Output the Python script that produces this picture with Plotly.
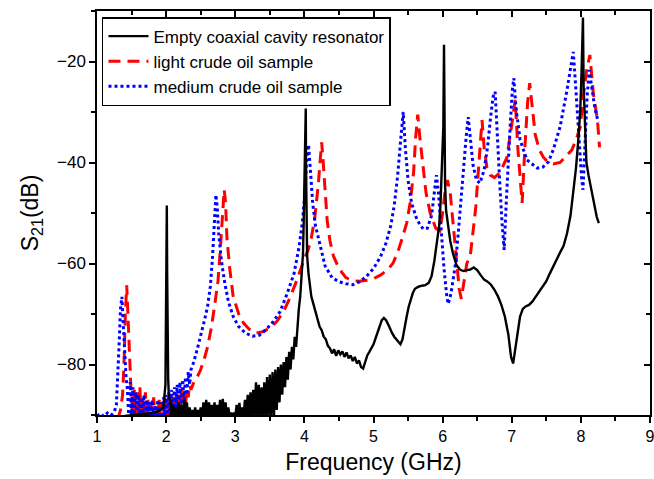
import plotly.graph_objects as go

# ---------------- data ----------------
# Empty coaxial cavity resonator (black, solid)
empty_freq = [
    1.00, 1.20, 1.40, 1.60, 1.80, 1.90, 1.96, 1.99, 2.00, 2.01, 2.015, 2.02, 2.03, 2.04,
    2.06, 2.08, 2.10, 2.12, 2.14, 2.16, 2.18, 2.20, 2.22, 2.24, 2.26, 2.28, 2.30, 2.32,
    2.34, 2.36, 2.38, 2.40, 2.42, 2.44, 2.46, 2.48, 2.50, 2.52, 2.54, 2.56, 2.58, 2.60,
    2.62, 2.64, 2.66, 2.68, 2.70, 2.72, 2.74, 2.76, 2.78, 2.80, 2.82, 2.84, 2.86, 2.88,
    2.90, 2.92, 2.94, 2.96, 2.98, 3.00, 3.02, 3.04, 3.06, 3.08, 3.10, 3.12, 3.14, 3.16,
    3.18, 3.20, 3.22, 3.24, 3.26, 3.28, 3.30, 3.32, 3.34, 3.36, 3.38, 3.40, 3.42, 3.44,
    3.46, 3.48, 3.50, 3.52, 3.54, 3.56, 3.58, 3.60, 3.62, 3.64, 3.66, 3.68, 3.70, 3.72,
    3.74, 3.76, 3.78, 3.80, 3.82, 3.84, 3.86, 3.88, 3.90,
    3.92, 3.94, 3.96, 3.98, 3.99, 4.00, 4.01, 4.02, 4.025, 4.03, 4.04, 4.06, 4.08, 4.10,
    4.13, 4.16, 4.19, 4.22, 4.25, 4.28, 4.31, 4.34, 4.37, 4.40, 4.43, 4.46, 4.49, 4.52,
    4.55, 4.58, 4.61, 4.64, 4.67, 4.70, 4.73, 4.76, 4.79, 4.82, 4.85, 4.88, 4.91, 4.94,
    4.97, 5.00, 5.03, 5.06, 5.09, 5.12, 5.15, 5.18, 5.21, 5.24, 5.27, 5.30, 5.33, 5.36,
    5.39, 5.42, 5.45, 5.48, 5.51, 5.54, 5.57, 5.60, 5.65, 5.70, 5.75, 5.80, 5.84, 5.88,
    5.92, 5.95, 5.97, 5.99, 6.00, 6.01, 6.02, 6.025, 6.035, 6.05, 6.08, 6.11, 6.15, 6.20,
    6.25, 6.30, 6.35, 6.40, 6.45, 6.50, 6.55, 6.60, 6.65, 6.70, 6.75, 6.80, 6.85, 6.90,
    6.95, 6.99, 7.02, 7.05, 7.08, 7.12, 7.16, 7.20, 7.25, 7.30, 7.35, 7.40, 7.45, 7.50,
    7.55, 7.60, 7.65, 7.70, 7.75, 7.80, 7.85, 7.89, 7.93, 7.96, 7.99, 8.01, 8.02, 8.03,
    8.04, 8.06, 8.08, 8.11, 8.14, 8.17, 8.20, 8.23, 8.26,
]
empty_s21 = [
    -90.5, -90.4, -90.2, -89.9, -89.6, -89.2, -88.5, -84.0, -70.0, -48.5, -62.0, -75.0, -83.0, -86.5,
    -87.0, -90.5, -88.0, -90.5, -88.5, -90.5, -87.5, -90.5, -88.0, -90.5, -87.0, -90.5, -87.5, -90.5,
    -88.5, -90.5, -89.0, -90.5, -88.5, -90.5, -89.0, -90.5, -88.5, -90.5, -87.5, -90.5, -87.0, -90.5,
    -87.5, -90.5, -88.0, -90.5, -87.5, -90.5, -88.0, -90.5, -87.0, -90.5, -86.8, -90.5, -87.5, -90.5,
    -88.5, -90.5, -89.5, -90.5, -89.5, -90.5, -88.0, -90.5, -87.6, -90.5, -88.5, -90.5, -87.0, -90.5,
    -86.0, -90.5, -85.5, -90.5, -85.0, -90.5, -83.5, -90.5, -84.0, -90.5, -84.5, -90.5, -83.5, -90.5,
    -82.5, -90.5, -82.0, -90.5, -81.5, -90.5, -81.0, -89.0, -80.5, -87.5, -80.0, -86.0, -79.5, -84.5,
    -78.5, -83.0, -77.5, -81.0, -76.5, -79.0, -74.5, -76.5, -71.5,
    -69.0, -66.5, -63.0, -58.0, -52.0, -46.0, -38.0, -29.3, -42.0, -55.0, -58.5, -62.0, -64.5, -66.5,
    -68.0, -69.5, -71.0, -72.5, -73.2, -74.5, -75.0, -76.3, -76.8, -77.8, -77.0, -78.3, -77.2, -78.0,
    -77.4, -78.5, -77.6, -78.8, -78.2, -79.3, -78.5, -79.8, -79.2, -80.5, -80.8, -79.5, -78.2, -77.5,
    -76.8, -76.0, -74.8, -73.5, -72.2, -71.2, -70.8, -71.2, -72.0, -73.0, -73.8, -74.5, -75.0, -75.6,
    -76.0, -75.0, -72.5, -70.5, -68.5, -67.0, -65.8, -65.0, -64.6, -64.4, -64.3, -63.8, -62.5, -59.5,
    -56.0, -52.5, -48.0, -42.0, -38.0, -33.0, -16.7, -34.0, -44.0, -49.5, -53.0, -55.5, -58.0, -60.3,
    -61.2, -61.5, -61.3, -61.2, -60.8, -61.3, -62.3, -63.2, -63.6, -64.2, -65.2, -66.5, -68.2, -70.5,
    -74.0, -78.5, -79.8, -77.0, -73.5, -70.5, -69.0, -68.5, -68.2, -67.5, -66.5, -65.5, -64.6, -63.5,
    -62.0, -60.5, -59.0, -57.8, -56.5, -54.0, -50.5, -46.0, -41.0, -36.0, -30.0, -22.0, -16.0, -11.3,
    -25.0, -35.0, -40.0, -42.5, -44.5, -47.0, -49.0, -50.8, -52.0,
]

# Light crude oil sample (red, dashed)
light_freq = [
    1.30, 1.34, 1.37, 1.39, 1.41, 1.43, 1.45, 1.47, 1.49,
    1.50, 1.52, 1.54, 1.56, 1.58, 1.60, 1.62, 1.64, 1.66, 1.68, 1.70, 1.72, 1.74, 1.76,
    1.78, 1.80, 1.82, 1.84, 1.86, 1.88, 1.90, 1.92, 1.94, 1.96, 1.98, 2.00, 2.02, 2.04,
    2.06, 2.08, 2.10, 2.12, 2.14, 2.16, 2.18, 2.20, 2.22, 2.24, 2.26, 2.28, 2.30, 2.32,
    2.34, 2.36,
    2.40, 2.45, 2.50, 2.55, 2.60, 2.65, 2.70, 2.75, 2.78, 2.81, 2.84, 2.86, 2.88, 2.92,
    2.97, 3.05, 3.12, 3.20, 3.30, 3.40, 3.50, 3.60, 3.70, 3.80, 3.90, 4.00, 4.05, 4.10,
    4.15, 4.20, 4.23, 4.25, 4.27, 4.30, 4.33, 4.37, 4.42, 4.50, 4.60, 4.70, 4.80, 4.90,
    5.00, 5.10, 5.20, 5.28, 5.35, 5.42, 5.48, 5.53, 5.58, 5.61, 5.64, 5.67, 5.71, 5.76,
    5.82, 5.90, 5.96, 6.00, 6.04, 6.07, 6.11, 6.15, 6.20, 6.24, 6.27, 6.30, 6.35, 6.40,
    6.44, 6.48, 6.51, 6.54, 6.57, 6.60, 6.64, 6.69, 6.75, 6.83, 6.93, 7.00, 7.05, 7.09,
    7.15, 7.19, 7.23, 7.26, 7.30, 7.34, 7.40, 7.46, 7.53, 7.60, 7.70, 7.80, 7.87, 7.93,
    7.99, 8.03, 8.08, 8.13, 8.18, 8.24, 8.27,
]
light_s21 = [
    -91.0, -89.0, -86.0, -80.0, -70.0, -64.3, -71.0, -79.0, -84.5,
    -86.0, -90.5, -85.0, -90.5, -85.5, -90.0, -84.5, -90.5, -86.0, -90.5, -85.5, -90.5, -87.0, -90.5,
    -87.5, -90.5, -86.5, -90.5, -88.0, -90.5, -87.0, -90.5, -87.5, -90.5, -86.5, -90.5, -87.0, -90.5,
    -86.0, -90.5, -86.5, -90.5, -85.5, -90.5, -86.0, -90.5, -85.0, -89.5, -85.5, -88.0, -85.0, -86.5,
    -84.0, -85.0,
    -83.5, -82.5, -81.0, -79.0, -76.5, -73.0, -68.5, -63.5, -58.0, -51.0, -45.4, -48.0, -55.0, -61.0,
    -66.5, -70.0, -71.8, -73.0, -73.8, -73.5, -72.8, -71.5, -69.5, -66.5, -63.0, -59.0, -57.5, -55.0,
    -51.0, -44.5, -38.5, -36.0, -39.5, -46.5, -51.5, -55.5, -58.5, -61.0, -62.8, -63.4, -63.5, -63.3,
    -63.0, -62.3, -61.3, -60.0, -57.8, -54.8, -52.0, -48.0, -42.0, -35.0, -30.5, -35.0, -40.5, -46.0,
    -50.0, -53.0, -53.5, -50.0, -45.0, -43.5, -46.0, -52.0, -60.0, -65.0, -67.0, -64.5, -60.0, -58.5,
    -54.0, -48.8, -43.0, -37.0, -31.6, -37.0, -41.0, -42.5, -43.0, -42.0, -39.0, -32.5, -27.6, -37.5,
    -48.0, -37.0, -28.0, -24.3, -30.0, -34.5, -37.5, -39.0, -40.0, -40.3, -40.0, -38.5, -37.5, -35.5,
    -33.0, -27.6, -22.0, -18.7, -26.3, -31.6, -37.0,
]

# Medium crude oil sample (blue, dotted)
medium_freq = [
    1.00, 1.05, 1.10, 1.15, 1.20, 1.25, 1.28, 1.30, 1.32, 1.34, 1.36, 1.38, 1.40, 1.42,
    1.44, 1.46, 1.48, 1.50, 1.52, 1.54, 1.56, 1.58, 1.60, 1.62, 1.64, 1.66, 1.68, 1.70,
    1.72, 1.74, 1.76, 1.78, 1.80, 1.82, 1.84, 1.86, 1.88, 1.90, 1.92, 1.94, 1.96, 1.98,
    2.00, 2.02, 2.04, 2.06, 2.08, 2.10, 2.12, 2.14, 2.16, 2.18, 2.20, 2.22, 2.24, 2.26,
    2.28, 2.30, 2.32, 2.34, 2.36,
    2.40, 2.45, 2.50, 2.55, 2.60, 2.64, 2.67, 2.70, 2.72, 2.74, 2.76, 2.80, 2.85, 2.90,
    2.97, 3.05, 3.15, 3.25, 3.35, 3.45, 3.55, 3.65, 3.75, 3.85, 3.92, 3.97, 4.01, 4.03,
    4.06, 4.09, 4.12, 4.16, 4.22, 4.30, 4.40, 4.50, 4.60, 4.70, 4.80, 4.90, 5.00, 5.10,
    5.18, 5.25, 5.30, 5.35, 5.39, 5.43, 5.46, 5.50, 5.55, 5.63, 5.72, 5.78, 5.84, 5.88,
    5.91, 5.94, 5.98, 6.02, 6.06, 6.08, 6.12, 6.18, 6.22, 6.26, 6.30, 6.34, 6.37, 6.40,
    6.44, 6.49, 6.54, 6.60, 6.65, 6.69, 6.73, 6.76, 6.79, 6.83, 6.86, 6.89, 6.92, 6.95,
    6.98, 7.01, 7.03, 7.06, 7.12, 7.22, 7.37, 7.45, 7.53, 7.60, 7.70, 7.80, 7.85, 7.89,
    7.93, 7.97, 8.01, 8.03, 8.06, 8.09, 8.12, 8.16, 8.20, 8.25,
]
medium_s21 = [
    -90.2, -89.7, -90.3, -89.6, -90.1, -89.4, -88.0, -83.0, -76.0, -69.0, -66.6, -72.0, -78.0, -82.5,
    -85.0, -90.5, -83.5, -90.5, -84.5, -90.0, -85.5, -90.5, -86.0, -90.5, -86.5, -90.5, -86.0, -90.5,
    -87.0, -90.5, -87.5, -90.5, -87.0, -90.5, -88.0, -90.5, -87.0, -90.5, -87.5, -90.5, -86.5, -90.5,
    -86.0, -90.5, -85.5, -90.0, -85.0, -90.0, -84.5, -89.5, -84.0, -89.0, -83.5, -88.5, -83.0, -87.5,
    -82.5, -86.0, -81.5, -84.0, -81.0,
    -79.5, -77.0, -74.5, -71.5, -68.5, -64.5, -59.0, -51.0, -46.4, -49.0, -54.0, -59.5, -64.0, -67.5,
    -70.5, -72.5, -73.8, -74.4, -74.2, -73.0, -71.5, -69.5, -66.0, -62.0, -57.0, -52.0, -46.0, -40.0,
    -36.5, -42.0, -48.0, -52.5, -56.0, -60.5, -62.8, -63.6, -64.0, -64.2, -63.6, -62.5, -61.0, -58.7,
    -56.0, -52.5, -48.5, -42.5, -36.0, -30.0, -37.0, -43.5, -48.0, -51.4, -53.2, -53.0, -50.5, -46.5,
    -42.5, -46.0, -54.0, -61.0, -66.5, -68.0, -66.0, -60.7, -55.0, -48.0, -41.0, -35.0, -31.0, -35.0,
    -40.5, -43.5, -44.1, -41.5, -37.0, -31.5, -27.0, -26.0, -35.0, -45.0, -52.0, -57.3, -48.0, -39.0,
    -32.0, -25.5, -23.3, -29.0, -35.5, -39.5, -41.1, -40.9, -39.9, -37.5, -32.9, -25.6, -21.0, -18.1,
    -26.0, -35.0, -43.0, -45.4, -36.0, -27.0, -21.7, -25.5, -29.0, -32.0,
]

x_range = [1, 9]
y_range = [-90, -10]

# ---------------- figure ----------------
FONT = "Arial, Liberation Sans, Helvetica, sans-serif"
fig = go.Figure()

fig.add_trace(go.Scatter(
    x=light_freq, y=light_s21, mode="lines", name="light crude oil sample",
    line=dict(color="#ff0000", width=3, dash="12px,7px"), legendrank=2,
))
fig.add_trace(go.Scatter(
    x=medium_freq, y=medium_s21, mode="lines", name="medium crude oil sample",
    line=dict(color="#0000ff", width=3, dash="dot"), legendrank=3,
))
fig.add_trace(go.Scatter(
    x=empty_freq, y=empty_s21, mode="lines", name="Empty coaxial cavity resonator",
    line=dict(color="#000000", width=2.4), legendrank=1,
))
# dummy trace for the mirrored (top/right) axes
fig.add_trace(go.Scatter(x=[None], y=[None], xaxis="x2", yaxis="y2",
                         showlegend=False, hoverinfo="skip"))

axis_common = dict(showgrid=False, zeroline=False, showline=True,
                   linecolor="black", linewidth=1.5, automargin=False)

fig.update_layout(
    width=654, height=479,
    margin=dict(l=97, r=4, t=11, b=64),
    paper_bgcolor="white", plot_bgcolor="white",
    font=dict(family=FONT, color="black", size=16),
    showlegend=True,
    legend=dict(x=0.009, y=0.985, xanchor="left", yanchor="top",
                bgcolor="white", bordercolor="black", borderwidth=1.5,
                font=dict(family=FONT, size=17, color="black"),
                tracegroupgap=0, itemwidth=40),
    xaxis=dict(range=x_range, dtick=1, tick0=1, ticks="outside", ticklen=6,
               tickwidth=1.5, tickcolor="black", ticklabeloverflow="allow",
               minor=dict(dtick=0.5, ticks="outside", ticklen=4, tickwidth=1.5, tickcolor="black"),
               tickfont=dict(size=16, family=FONT),
               title=dict(text="Frequency (GHz)", font=dict(size=23, family=FONT), standoff=10),
               **axis_common),
    yaxis=dict(range=y_range, dtick=20, tick0=0, ticks="outside", ticklen=6,
               tickwidth=1.5, tickcolor="black",
               minor=dict(dtick=10, ticks="outside", ticklen=4, tickwidth=1.5, tickcolor="black"),
               tickfont=dict(size=17, family=FONT),
               title=dict(text="S<sub>21</sub>(dB)", font=dict(size=23, family=FONT), standoff=12),
               **axis_common),
    xaxis2=dict(range=x_range, overlaying="x", side="top", dtick=1, tick0=1,
                ticks="inside", ticklen=6, tickwidth=1.5, tickcolor="black",
                minor=dict(dtick=0.5, ticks="inside", ticklen=4, tickwidth=1.5, tickcolor="black"),
                showticklabels=False, **axis_common),
    yaxis2=dict(range=y_range, overlaying="y", side="right", dtick=20, tick0=0,
                ticks="inside", ticklen=6, tickwidth=1.5, tickcolor="black",
                minor=dict(dtick=10, ticks="inside", ticklen=4, tickwidth=1.5, tickcolor="black"),
                showticklabels=False, **axis_common),
)

fig.write_html("out.html", config={"displayModeBar": False},
               post_script="document.body.style.margin='0';document.body.style.padding='0';")
